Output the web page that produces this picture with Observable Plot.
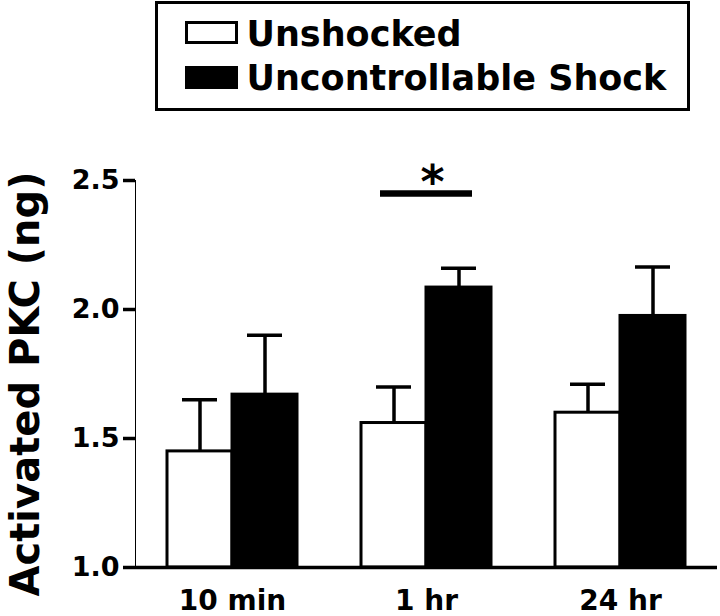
<!DOCTYPE html>
<html><head><meta charset="utf-8">
<script src="https://cdn.jsdelivr.net/npm/d3@7"></script>
<script src="https://cdn.jsdelivr.net/npm/@observablehq/plot@0.6"></script>
<style>
body{margin:0;background:#fff;font-family:"DejaVu Sans",sans-serif;font-weight:bold;color:#000}
#wrap{position:relative;width:720px;height:616px;overflow:hidden;background:#fff}
#legend{position:absolute;left:155px;top:1px;width:535px;height:110px;box-sizing:border-box;border:3.5px solid #000}
.sw{position:absolute;left:26.5px;width:53px;height:23px;box-sizing:border-box;border:3px solid #000}
.lab{position:absolute;left:88.5px;font-size:35px;line-height:35px;white-space:nowrap}
#chart{position:absolute;left:0;top:120px}
#chart svg [aria-label^="y-axis"] line,#chart svg [aria-label^="y-axis"] path{stroke-width:3.5px}
#chart svg [aria-label^="fx-axis"] text{font-size:28px}
</style>
</head><body>
<div id="wrap"><div id="legend"></div><div id="chart"></div></div>
<script>
const times = ["10 min", "1 hr", "24 hr"];
const groups = ["Unshocked", "Uncontrollable Shock"];
const groupFills = ["white", "black"];
const unshockedMean = [1.45, 1.56, 1.60];
const unshockedSem = [0.20, 0.14, 0.11];
const shockMean = [1.67, 2.085, 1.975];
const shockSem = [0.23, 0.075, 0.19];
const yDomain = [1.0, 2.5];
const yTicks = [1.0, 1.5, 2.0, 2.5];
const yLabel = "Activated PKC (ng)";
const sigTimes = ["1 hr"];
const sigY = [2.45];
const sigMarks = ["*"];

const rows = times.flatMap((t, i) => [
  {time: t, group: groups[0], mean: unshockedMean[i], upper: unshockedMean[i] + unshockedSem[i]},
  {time: t, group: groups[1], mean: shockMean[i], upper: shockMean[i] + shockSem[i]}
]);
const sig = sigTimes.map((t, i) => ({time: t, y: sigY[i], mark: sigMarks[i]}));
const labelRow = [{time: times[0], label: yLabel}];

// legend
const legend = document.getElementById("legend");
groups.forEach((g, i) => {
  const sw = document.createElement("div");
  sw.className = "sw";
  sw.style.top = (16.5 + i * 45) + "px";
  sw.style.background = groupFills[i];
  legend.appendChild(sw);
  const lab = document.createElement("div");
  lab.className = "lab";
  lab.style.top = (12.5 + i * 44.5) + "px";
  lab.textContent = g;
  legend.appendChild(lab);
});

const chart = Plot.plot({
  width: 720, height: 496,
  marginTop: 60, marginBottom: 49, marginLeft: 134, marginRight: 2,
  style: {fontFamily: "DejaVu Sans", fontSize: "27px", fontWeight: "bold", color: "black", background: "white", overflow: "visible"},
  fx: {domain: times, padding: 0, axis: "bottom", tickSize: 0, tickPadding: 23, label: null},
  x: {domain: groups, paddingInner: 0, paddingOuter: 0.47, axis: null},
  y: {domain: yDomain, ticks: yTicks, tickFormat: d => d.toFixed(1), tickSize: 12, tickPadding: 4, line: true, label: null},
  color: {domain: groups, range: groupFills},
  marks: [
    Plot.barY(rows, {fx: "time", x: "group", y1: () => yDomain[0], y2: "mean", fill: "group", stroke: "black", strokeWidth: 3}),
    Plot.ruleX(rows, {fx: "time", x: "group", y1: "mean", y2: "upper", stroke: "black", strokeWidth: 3.5}),
    Plot.tickY(rows, {fx: "time", x: "group", y: "upper", stroke: "black", strokeWidth: 3.5, insetLeft: 15, insetRight: 15}),
    Plot.ruleY([yDomain[0]], {stroke: "black", strokeWidth: 3.5}),
    Plot.ruleY(sig, {fx: "time", y: "y", stroke: "black", strokeWidth: 6.5, insetLeft: 51, insetRight: 51}),
    Plot.text(sig, {fx: "time", y: "y", text: "mark", fontSize: 46, fontWeight: "bold", dx: 6, dy: -10}),
    Plot.text(labelRow, {fx: "time", frameAnchor: "left", textAnchor: "middle", text: "label", rotate: -90, fontSize: 40, fontWeight: "bold", dx: -109, dy: 10})
  ]
});
document.getElementById("chart").appendChild(chart);
</script>
</body></html>
